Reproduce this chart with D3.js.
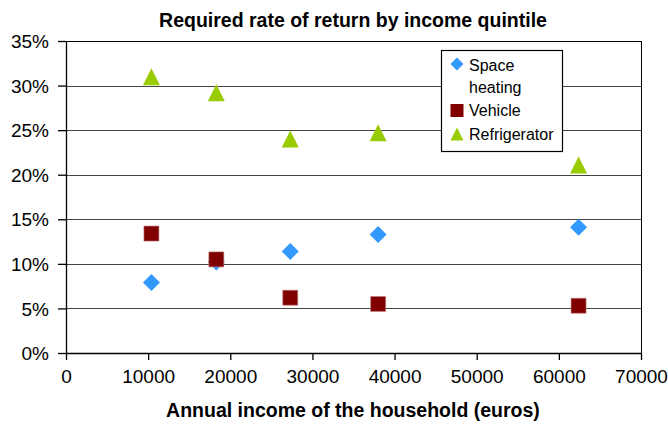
<!DOCTYPE html>
<html><head><meta charset="utf-8">
<script src="https://cdn.jsdelivr.net/npm/d3@7"></script>
<style>body{margin:0;background:#fff}svg{display:block;font-family:"Liberation Sans",Arial,sans-serif}</style>
</head><body>
<svg id="c" width="668" height="426"></svg>
<script>
const incomes = [10400, 18300, 27300, 38000, 62400];
const spaceHeating = [0.079, 0.102, 0.114, 0.133, 0.141];
const vehicle = [0.134, 0.105, 0.062, 0.055, 0.053];
const refrigerator = [0.310, 0.292, 0.240, 0.247, 0.211];
const xTicks = [0, 10000, 20000, 30000, 40000, 50000, 60000, 70000];
const yTicks = [0, 0.05, 0.10, 0.15, 0.20, 0.25, 0.30, 0.35];
const seriesNames = ["Space heating", "Vehicle", "Refrigerator"];

const svg = d3.select("#c");
const L = 66, R = 641, T = 41, B = 353;
const x = d3.scaleLinear().domain([0, 70000]).range([L, R]);
const y = d3.scaleLinear().domain([0, 0.35]).range([B, T]);

// marker shapes centred on their bounding box
function shape(kind, s) {
  const h = s / 2;
  if (kind === 0) return `M0,${-h}L${h},0L0,${h}L${-h},0Z`;
  if (kind === 1) return `M${-h},${-h}H${h}V${h}H${-h}Z`;
  return `M0,${-h}L${h},${h}L${-h},${h}Z`;
}

// gridlines
svg.append("g").selectAll("line").data(yTicks.filter(d => d > 0)).join("line")
  .attr("x1", L).attr("x2", R).attr("y1", d => Math.round(y(d)) + 0.5).attr("y2", d => Math.round(y(d)) + 0.5)
  .attr("stroke", d => d === 0.35 ? "#000" : "#444").attr("stroke-width", 1);
// right border
svg.append("line").attr("x1", R + 0.5).attr("x2", R + 0.5).attr("y1", T).attr("y2", B)
  .attr("stroke", "#000");

const xAxis = svg.append("g").attr("transform", `translate(0,${B})`)
  .call(d3.axisBottom(x).tickValues(xTicks).tickFormat(d3.format("d")).tickSize(7).tickSizeOuter(0));
const yAxis = svg.append("g").attr("transform", `translate(${L},0)`)
  .call(d3.axisLeft(y).tickValues(yTicks).tickFormat(d => Math.round(d * 100) + "%").tickSize(8).tickSizeOuter(0));
[xAxis, yAxis].forEach(a => {
  a.selectAll("path,line").attr("stroke", "#000").attr("stroke-width", 1.3);
  a.selectAll("text").attr("font-size", 19).attr("fill", "#000").attr("font-family", "Liberation Sans, Arial, sans-serif");
});
xAxis.selectAll("text").attr("y", 17).attr("dy", "0.71em");
yAxis.selectAll("text").attr("x", -17).attr("dy", "0.35em");

// markers
const colors = ["#3399FF", "#800000", "#99CC00"];
const sizes = [17, 15, 17];
[spaceHeating, vehicle, refrigerator].forEach((vals, i) => {
  svg.append("g").selectAll("path").data(vals).join("path")
    .attr("transform", (d, j) => `translate(${x(incomes[j])},${y(d)})`)
    .attr("d", shape(i, sizes[i]))
    .attr("fill", colors[i])
    .attr("stroke", i === 1 ? "#c08080" : "none").attr("stroke-width", 0.6);
});

// legend
const lg = svg.append("g");
lg.append("rect").attr("x", 441.5).attr("y", 50.5).attr("width", 121).attr("height", 101)
  .attr("fill", "#fff").attr("stroke", "#000").attr("stroke-width", 1.2);
const ly = [64, 110.5, 134];
ly.forEach((yy, i) => {
  lg.append("path").attr("transform", `translate(457,${yy})`)
    .attr("d", shape(i, 13)).attr("fill", colors[i]);
});
const legText = [["Space", 65], ["heating", 87], ["Vehicle", 110.5], ["Refrigerator", 134]];
legText.forEach(([t, yy]) => {
  lg.append("text").attr("x", 469).attr("y", yy).attr("dy", "0.35em").attr("font-size", 16).text(t);
});

svg.append("text").attr("x", 353).attr("y", 27).attr("text-anchor", "middle")
  .attr("font-size", 19.5).attr("font-weight", "bold").text("Required rate of return by income quintile");
svg.append("text").attr("x", 353).attr("y", 417).attr("text-anchor", "middle")
  .attr("font-size", 19.5).attr("font-weight", "bold").text("Annual income of the household (euros)");
</script>
</body></html>
